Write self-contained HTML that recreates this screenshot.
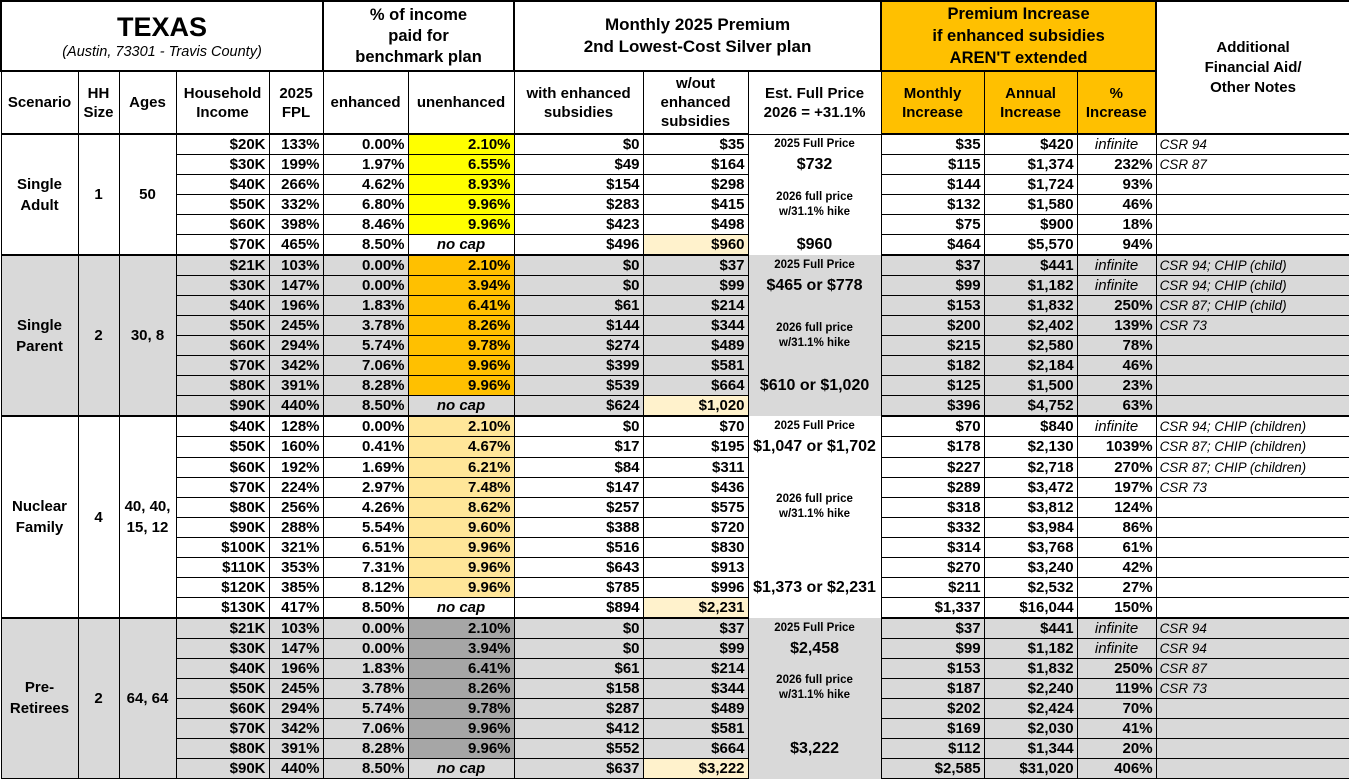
<!DOCTYPE html>
<html><head><meta charset="utf-8">
<style>
body{margin:0;background:#fff;}
table{border-collapse:collapse;table-layout:fixed;width:1349px;font-family:"Liberation Sans",Arial,sans-serif;font-weight:bold;font-size:15px;color:#000;}
td{border:1px solid #000;padding:0 3px;overflow:hidden;white-space:nowrap;line-height:17px;}
tr.d td{height:19.04px;text-align:right;}
.c{text-align:center!important;line-height:21px!important;}
.h td{text-align:center;white-space:normal;line-height:19px;}
.y{background:#ffff00;}
.o{background:#ffc000;}
.p{background:#ffe699;}
.g2{background:#a6a6a6;}
.lc{background:#fff2cc;}
.G td{background:#d9d9d9;}
.G td.o{background:#ffc000;}
.G td.g2{background:#a6a6a6;}
.G td.lc{background:#fff2cc;}
.n{font-weight:normal;font-style:italic;font-size:13.5px;text-align:left!important;}
.inf{font-weight:normal;font-style:italic;text-align:center!important;}
.nc{font-style:italic;text-align:center!important;}
.fp{border-top:none!important;border-bottom:none!important;text-align:center!important;}
.sm{font-size:11.5px;line-height:15px;}
.big{font-size:16px;}
.th td{border-top:2px solid #000;}
</style></head><body>
<table>
<colgroup><col style="width:77px"><col style="width:41px"><col style="width:57px"><col style="width:93px"><col style="width:54px"><col style="width:85px"><col style="width:106px"><col style="width:129px"><col style="width:105px"><col style="width:133px"><col style="width:103px"><col style="width:93px"><col style="width:79px"><col style="width:194px"></colgroup>
<tr class="h" style="height:70px">
<td colspan="5" style="border-width:2px"><div style="font-size:27px;line-height:32px">TEXAS</div><div style="font-weight:normal;font-style:italic;font-size:14.5px">(Austin, 73301 - Travis County)</div></td>
<td colspan="2" style="font-size:16.5px;line-height:21px;border-width:2px">% of income<br>paid for<br>benchmark plan</td>
<td colspan="3" style="font-size:17px;line-height:22px;border-width:2px">Monthly 2025 Premium<br>2nd Lowest-Cost Silver plan</td>
<td colspan="3" class="o" style="font-size:16.5px;line-height:22px;border-width:2px">Premium Increase<br>if enhanced subsidies<br>AREN'T extended</td>
<td rowspan="2" style="vertical-align:top;padding-top:36px;border-width:2px;line-height:20px">Additional<br>Financial Aid/<br>Other Notes</td>
</tr>
<tr class="h" style="height:63px">
<td>Scenario</td><td>HH<br>Size</td><td>Ages</td><td>Household<br>Income</td><td>2025<br>FPL</td><td>enhanced</td><td>unenhanced</td><td>with enhanced<br>subsidies</td><td>w/out<br>enhanced<br>subsidies</td><td>Est. Full Price<br>2026 = +31.1%</td><td class="o">Monthly<br>Increase</td><td class="o">Annual<br>Increase</td><td class="o">%<br>Increase</td>
</tr>
<!-- Single Adult -->
<tr class="d th"><td rowspan="6" class="c">Single<br>Adult</td><td rowspan="6" class="c">1</td><td rowspan="6" class="c">50</td><td>$20K</td><td>133%</td><td>0.00%</td><td class="y">2.10%</td><td>$0</td><td>$35</td><td class="fp sm">2025 Full Price</td><td>$35</td><td>$420</td><td class="inf">infinite</td><td class="n">CSR 94</td></tr>
<tr class="d"><td>$30K</td><td>199%</td><td>1.97%</td><td class="y">6.55%</td><td>$49</td><td>$164</td><td class="fp big">$732</td><td>$115</td><td>$1,374</td><td>232%</td><td class="n">CSR 87</td></tr>
<tr class="d"><td>$40K</td><td>266%</td><td>4.62%</td><td class="y">8.93%</td><td>$154</td><td>$298</td><td rowspan="3" class="fp sm">2026 full price<br>w/31.1% hike</td><td>$144</td><td>$1,724</td><td>93%</td><td class="n"></td></tr>
<tr class="d"><td>$50K</td><td>332%</td><td>6.80%</td><td class="y">9.96%</td><td>$283</td><td>$415</td><td>$132</td><td>$1,580</td><td>46%</td><td class="n"></td></tr>
<tr class="d"><td>$60K</td><td>398%</td><td>8.46%</td><td class="y">9.96%</td><td>$423</td><td>$498</td><td>$75</td><td>$900</td><td>18%</td><td class="n"></td></tr>
<tr class="d"><td>$70K</td><td>465%</td><td>8.50%</td><td class="nc">no cap</td><td>$496</td><td class="lc">$960</td><td class="fp big">$960</td><td>$464</td><td>$5,570</td><td>94%</td><td class="n"></td></tr>
<!-- Single Parent -->
<tr class="d th G"><td rowspan="8" class="c">Single<br>Parent</td><td rowspan="8" class="c">2</td><td rowspan="8" class="c">30, 8</td><td>$21K</td><td>103%</td><td>0.00%</td><td class="o">2.10%</td><td>$0</td><td>$37</td><td class="fp sm">2025 Full Price</td><td>$37</td><td>$441</td><td class="inf">infinite</td><td class="n">CSR 94; CHIP (child)</td></tr>
<tr class="d G"><td>$30K</td><td>147%</td><td>0.00%</td><td class="o">3.94%</td><td>$0</td><td>$99</td><td class="fp big">$465 or $778</td><td>$99</td><td>$1,182</td><td class="inf">infinite</td><td class="n">CSR 94; CHIP (child)</td></tr>
<tr class="d G"><td>$40K</td><td>196%</td><td>1.83%</td><td class="o">6.41%</td><td>$61</td><td>$214</td><td rowspan="4" class="fp sm">2026 full price<br>w/31.1% hike</td><td>$153</td><td>$1,832</td><td>250%</td><td class="n">CSR 87; CHIP (child)</td></tr>
<tr class="d G"><td>$50K</td><td>245%</td><td>3.78%</td><td class="o">8.26%</td><td>$144</td><td>$344</td><td>$200</td><td>$2,402</td><td>139%</td><td class="n">CSR 73</td></tr>
<tr class="d G"><td>$60K</td><td>294%</td><td>5.74%</td><td class="o">9.78%</td><td>$274</td><td>$489</td><td>$215</td><td>$2,580</td><td>78%</td><td class="n"></td></tr>
<tr class="d G"><td>$70K</td><td>342%</td><td>7.06%</td><td class="o">9.96%</td><td>$399</td><td>$581</td><td>$182</td><td>$2,184</td><td>46%</td><td class="n"></td></tr>
<tr class="d G"><td>$80K</td><td>391%</td><td>8.28%</td><td class="o">9.96%</td><td>$539</td><td>$664</td><td class="fp big">$610 or $1,020</td><td>$125</td><td>$1,500</td><td>23%</td><td class="n"></td></tr>
<tr class="d G"><td>$90K</td><td>440%</td><td>8.50%</td><td class="nc">no cap</td><td>$624</td><td class="lc">$1,020</td><td class="fp"></td><td>$396</td><td>$4,752</td><td>63%</td><td class="n"></td></tr>
<!-- Nuclear Family -->
<tr class="d th"><td rowspan="10" class="c">Nuclear<br>Family</td><td rowspan="10" class="c">4</td><td rowspan="10" class="c">40, 40,<br>15, 12</td><td>$40K</td><td>128%</td><td>0.00%</td><td class="p">2.10%</td><td>$0</td><td>$70</td><td class="fp sm">2025 Full Price</td><td>$70</td><td>$840</td><td class="inf">infinite</td><td class="n">CSR 94; CHIP (children)</td></tr>
<tr class="d"><td>$50K</td><td>160%</td><td>0.41%</td><td class="p">4.67%</td><td>$17</td><td>$195</td><td class="fp big">$1,047 or $1,702</td><td>$178</td><td>$2,130</td><td>1039%</td><td class="n">CSR 87; CHIP (children)</td></tr>
<tr class="d"><td>$60K</td><td>192%</td><td>1.69%</td><td class="p">6.21%</td><td>$84</td><td>$311</td><td rowspan="5" class="fp sm">2026 full price<br>w/31.1% hike</td><td>$227</td><td>$2,718</td><td>270%</td><td class="n">CSR 87; CHIP (children)</td></tr>
<tr class="d"><td>$70K</td><td>224%</td><td>2.97%</td><td class="p">7.48%</td><td>$147</td><td>$436</td><td>$289</td><td>$3,472</td><td>197%</td><td class="n">CSR 73</td></tr>
<tr class="d"><td>$80K</td><td>256%</td><td>4.26%</td><td class="p">8.62%</td><td>$257</td><td>$575</td><td>$318</td><td>$3,812</td><td>124%</td><td class="n"></td></tr>
<tr class="d"><td>$90K</td><td>288%</td><td>5.54%</td><td class="p">9.60%</td><td>$388</td><td>$720</td><td>$332</td><td>$3,984</td><td>86%</td><td class="n"></td></tr>
<tr class="d"><td>$100K</td><td>321%</td><td>6.51%</td><td class="p">9.96%</td><td>$516</td><td>$830</td><td>$314</td><td>$3,768</td><td>61%</td><td class="n"></td></tr>
<tr class="d"><td>$110K</td><td>353%</td><td>7.31%</td><td class="p">9.96%</td><td>$643</td><td>$913</td><td class="fp"></td><td>$270</td><td>$3,240</td><td>42%</td><td class="n"></td></tr>
<tr class="d"><td>$120K</td><td>385%</td><td>8.12%</td><td class="p">9.96%</td><td>$785</td><td>$996</td><td class="fp big">$1,373 or $2,231</td><td>$211</td><td>$2,532</td><td>27%</td><td class="n"></td></tr>
<tr class="d"><td>$130K</td><td>417%</td><td>8.50%</td><td class="nc">no cap</td><td>$894</td><td class="lc">$2,231</td><td class="fp"></td><td>$1,337</td><td>$16,044</td><td>150%</td><td class="n"></td></tr>
<!-- Pre-Retirees -->
<tr class="d th G"><td rowspan="8" class="c">Pre-<br>Retirees</td><td rowspan="8" class="c">2</td><td rowspan="8" class="c">64, 64</td><td>$21K</td><td>103%</td><td>0.00%</td><td class="g2">2.10%</td><td>$0</td><td>$37</td><td class="fp sm">2025 Full Price</td><td>$37</td><td>$441</td><td class="inf">infinite</td><td class="n">CSR 94</td></tr>
<tr class="d G"><td>$30K</td><td>147%</td><td>0.00%</td><td class="g2">3.94%</td><td>$0</td><td>$99</td><td class="fp big">$2,458</td><td>$99</td><td>$1,182</td><td class="inf">infinite</td><td class="n">CSR 94</td></tr>
<tr class="d G"><td>$40K</td><td>196%</td><td>1.83%</td><td class="g2">6.41%</td><td>$61</td><td>$214</td><td rowspan="3" class="fp sm">2026 full price<br>w/31.1% hike</td><td>$153</td><td>$1,832</td><td>250%</td><td class="n">CSR 87</td></tr>
<tr class="d G"><td>$50K</td><td>245%</td><td>3.78%</td><td class="g2">8.26%</td><td>$158</td><td>$344</td><td>$187</td><td>$2,240</td><td>119%</td><td class="n">CSR 73</td></tr>
<tr class="d G"><td>$60K</td><td>294%</td><td>5.74%</td><td class="g2">9.78%</td><td>$287</td><td>$489</td><td>$202</td><td>$2,424</td><td>70%</td><td class="n"></td></tr>
<tr class="d G"><td>$70K</td><td>342%</td><td>7.06%</td><td class="g2">9.96%</td><td>$412</td><td>$581</td><td class="fp"></td><td>$169</td><td>$2,030</td><td>41%</td><td class="n"></td></tr>
<tr class="d G"><td>$80K</td><td>391%</td><td>8.28%</td><td class="g2">9.96%</td><td>$552</td><td>$664</td><td class="fp big">$3,222</td><td>$112</td><td>$1,344</td><td>20%</td><td class="n"></td></tr>
<tr class="d G"><td>$90K</td><td>440%</td><td>8.50%</td><td class="nc">no cap</td><td>$637</td><td class="lc">$3,222</td><td class="fp"></td><td>$2,585</td><td>$31,020</td><td>406%</td><td class="n"></td></tr>
</table>
</body></html>
